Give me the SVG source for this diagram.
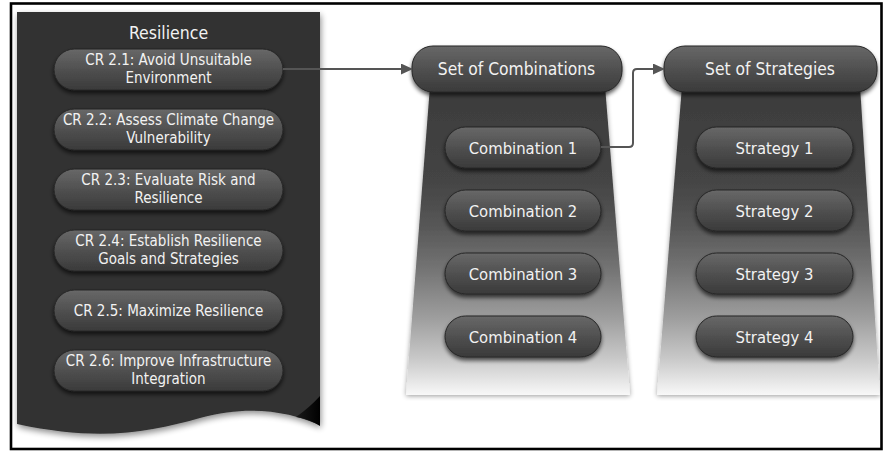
<svg xmlns="http://www.w3.org/2000/svg" width="883" height="451" viewBox="0 0 883 451">
  <defs>
    <linearGradient id="pillFill" x1="0" y1="0" x2="0" y2="1">
      <stop offset="0" stop-color="#686868"/>
      <stop offset="0.5" stop-color="#505050"/>
      <stop offset="1" stop-color="#3a3a3a"/>
    </linearGradient>
    <linearGradient id="colFill" gradientUnits="userSpaceOnUse" x1="0" y1="88" x2="0" y2="395">
      <stop offset="0" stop-color="#3c3c3c"/>
      <stop offset="0.3" stop-color="#444444"/>
      <stop offset="0.45" stop-color="#575757"/>
      <stop offset="0.6" stop-color="#767676"/>
      <stop offset="0.75" stop-color="#9e9e9e"/>
      <stop offset="0.88" stop-color="#c8c8c8"/>
      <stop offset="1" stop-color="#f8f8f8"/>
    </linearGradient>
    <linearGradient id="foldFill" x1="0" y1="0" x2="1" y2="0">
      <stop offset="0" stop-color="#1a1a1a"/>
      <stop offset="1" stop-color="#000000"/>
    </linearGradient>
    <filter id="pillShadow" x="-20%" y="-30%" width="140%" height="170%">
      <feGaussianBlur in="SourceAlpha" stdDeviation="2"/>
      <feOffset dy="3" result="b"/>
      <feComponentTransfer><feFuncA type="linear" slope="0.65"/></feComponentTransfer>
      <feMerge><feMergeNode/><feMergeNode in="SourceGraphic"/></feMerge>
    </filter>
    <filter id="panelShadow" x="-10%" y="-10%" width="120%" height="120%">
      <feGaussianBlur in="SourceAlpha" stdDeviation="3"/>
      <feOffset dx="1" dy="3" result="b"/>
      <feComponentTransfer><feFuncA type="linear" slope="0.45"/></feComponentTransfer>
      <feMerge><feMergeNode/><feMergeNode in="SourceGraphic"/></feMerge>
    </filter>
    <filter id="colShadow" x="-15%" y="-10%" width="130%" height="120%">
      <feGaussianBlur in="SourceAlpha" stdDeviation="2.5"/>
      <feOffset dy="1" result="b"/>
      <feComponentTransfer><feFuncA type="linear" slope="0.4"/></feComponentTransfer>
      <feMerge><feMergeNode/><feMergeNode in="SourceGraphic"/></feMerge>
    </filter>
    <marker id="arrowHead" viewBox="0 0 12 11" refX="11" refY="5.5" markerWidth="12" markerHeight="11" markerUnits="userSpaceOnUse" orient="auto">
      <path d="M0,0 L12,5.5 L0,11 Z" fill="#555555"/>
    </marker>
  </defs>
  <style>
    .pill { fill: url(#pillFill); stroke: #262626; stroke-width: 1; filter: url(#pillShadow); }
    .txt { font-family: "DejaVu Sans Condensed", "DejaVu Sans", sans-serif; fill: #f2f2f2; text-anchor: middle; }
    .cr { font-size: 15px; }
    .item { font-size: 16.5px; }
    .head { font-size: 17.3px; }
    .col { fill: url(#colFill); filter: url(#colShadow); }
    .link { fill: none; stroke: #555555; stroke-width: 2; }
  </style>

  <rect width="883" height="451" fill="#ffffff"/>
  <!-- outer frame -->
  <rect x="11" y="3.5" width="870.5" height="445.5" fill="none" stroke="#000000" stroke-width="2.6"/>

  <!-- Resilience document panel -->
  <g id="resilience">
    <path d="M17,12 H320 V425 C290,412 250,404 200,418 C150,432 100,442 17,424 Z" fill="#323232" filter="url(#panelShadow)"/>
    <path d="M296,417 Q309,419 320,426 L320,396 Q309,408 296,417 Z" fill="url(#foldFill)"/>
    <text class="txt" x="168.5" y="39" font-size="17.5px">Resilience</text>
  </g>

  <g id="cr21">
    <rect class="pill" x="54" y="49" width="229" height="41" rx="20.5"/>
    <text class="txt cr" x="168.5" y="65">CR 2.1: Avoid Unsuitable</text>
    <text class="txt cr" x="168.5" y="83">Environment</text>
  </g>
  <g id="cr22">
    <rect class="pill" x="54" y="109" width="229" height="41" rx="20.5"/>
    <text class="txt cr" x="168.5" y="125">CR 2.2: Assess Climate Change</text>
    <text class="txt cr" x="168.5" y="143">Vulnerability</text>
  </g>
  <g id="cr23">
    <rect class="pill" x="54" y="169" width="229" height="41" rx="20.5"/>
    <text class="txt cr" x="168.5" y="185">CR 2.3: Evaluate Risk and</text>
    <text class="txt cr" x="168.5" y="203">Resilience</text>
  </g>
  <g id="cr24">
    <rect class="pill" x="54" y="230" width="229" height="41" rx="20.5"/>
    <text class="txt cr" x="168.5" y="246">CR 2.4: Establish Resilience</text>
    <text class="txt cr" x="168.5" y="264">Goals and Strategies</text>
  </g>
  <g id="cr25">
    <rect class="pill" x="54" y="290" width="229" height="41" rx="20.5"/>
    <text class="txt cr" x="168.5" y="316">CR 2.5: Maximize Resilience</text>
  </g>
  <g id="cr26">
    <rect class="pill" x="54" y="350" width="229" height="41" rx="20.5"/>
    <text class="txt cr" x="168.5" y="366">CR 2.6: Improve Infrastructure</text>
    <text class="txt cr" x="168.5" y="384">Integration</text>
  </g>

  <!-- Set of Combinations column -->
  <g id="combinations">
    <path class="col" d="M430,86 H605 L630,395 H406 Z"/>
    <rect class="pill" x="412" y="46" width="210" height="46" rx="21"/>
    <text class="txt head" x="516.5" y="75">Set of Combinations</text>
  </g>
  <g id="combination1">
    <rect class="pill" x="445" y="127" width="156" height="41" rx="20.5"/>
    <text class="txt item" x="523" y="153.5">Combination 1</text>
  </g>
  <g id="combination2">
    <rect class="pill" x="445" y="190" width="156" height="41" rx="20.5"/>
    <text class="txt item" x="523" y="216.5">Combination 2</text>
  </g>
  <g id="combination3">
    <rect class="pill" x="445" y="253" width="156" height="41" rx="20.5"/>
    <text class="txt item" x="523" y="279.5">Combination 3</text>
  </g>
  <g id="combination4">
    <rect class="pill" x="445" y="316" width="156" height="41" rx="20.5"/>
    <text class="txt item" x="523" y="342.5">Combination 4</text>
  </g>

  <!-- Set of Strategies column -->
  <g id="strategies">
    <path class="col" d="M682,86 H860 L880,395 H657 Z"/>
    <rect class="pill" x="664" y="46" width="213" height="46" rx="21"/>
    <text class="txt head" x="770" y="75">Set of Strategies</text>
  </g>
  <g id="strategy1">
    <rect class="pill" x="696" y="127" width="157" height="41" rx="20.5"/>
    <text class="txt item" x="774.5" y="153.5">Strategy 1</text>
  </g>
  <g id="strategy2">
    <rect class="pill" x="696" y="190" width="157" height="41" rx="20.5"/>
    <text class="txt item" x="774.5" y="216.5">Strategy 2</text>
  </g>
  <g id="strategy3">
    <rect class="pill" x="696" y="253" width="157" height="41" rx="20.5"/>
    <text class="txt item" x="774.5" y="279.5">Strategy 3</text>
  </g>
  <g id="strategy4">
    <rect class="pill" x="696" y="316" width="157" height="41" rx="20.5"/>
    <text class="txt item" x="774.5" y="342.5">Strategy 4</text>
  </g>

  <!-- connectors -->
  <g id="connectors">
    <path class="link" d="M283,69 H412" marker-end="url(#arrowHead)"/>
    <path class="link" d="M601,147 H629 Q633,147 633,143 V73 Q633,69 637,69 H664" marker-end="url(#arrowHead)"/>
  </g>
</svg>
